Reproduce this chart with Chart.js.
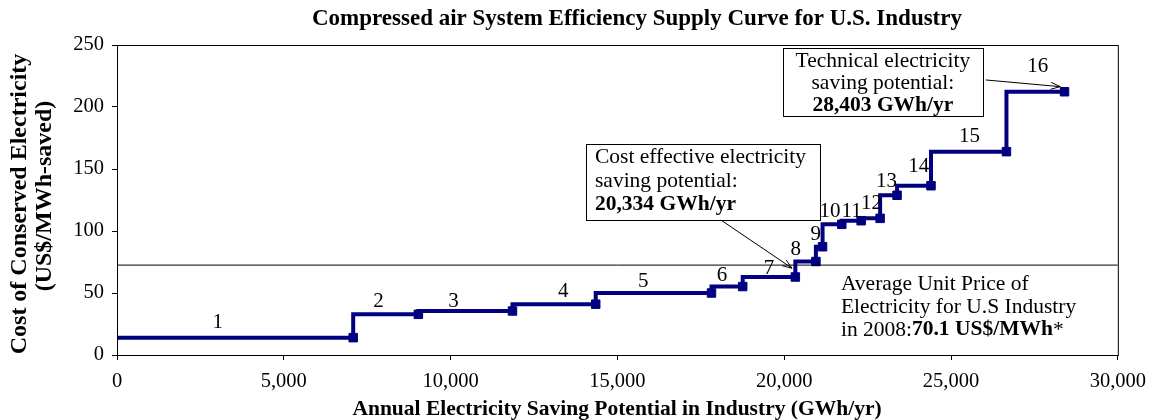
<!DOCTYPE html>
<html>
<head>
<meta charset="utf-8">
<script src="https://cdn.jsdelivr.net/npm/chart.js@4"></script>
<style>
  html, body { margin: 0; background: #fff; }
  #wrap { width: 1155px; height: 420px; }
</style>
</head>
<body>
<div id="wrap"><canvas id="supplyChart"></canvas></div>
<script>
// cumulative saving at the end of each measure (GWh/yr) and its cost (US$/MWh-saved)
const cumulativeSavings = [7080, 9034, 11855, 14350, 17820, 18756, 20334, 20950, 21150, 21726, 22306, 22875, 23383, 24400, 26662, 28403];
const conservedCost = [14, 32.8, 35.5, 41, 50, 55.2, 62.9, 75.4, 87.3, 105.4, 108.3, 110.2, 128.8, 136.5, 164, 212.3];
const measureNames = ['1', '2', '3', '4', '5', '6', '7', '8', '9', '10', '11', '12', '13', '14', '15', '16'];
const averagePrice = 72.5; // level where the price line sits in the picture
const xTicks = [0, 5000, 10000, 15000, 20000, 25000, 30000];
const yTicks = [0, 50, 100, 150, 200, 250];

// where the measure numbers are written (data units)
const labelX = [3023, 7842, 10087, 13379, 15773, 18138, 19545, 20344, 20943, 21371, 22020, 22619, 23068, 24035, 25552, 27597];
const labelY = [26.6, 43, 43.5, 51.6, 59, 64.5, 69.4, 84.7, 96.8, 115.6, 116, 121.8, 139.8, 151.9, 176, 232.5];

const serif = '"Liberation Serif", "Times New Roman", serif';
const navy = '#000080';
const noteFont = '21.5px ' + serif;
const noteBold = 'bold 21.5px ' + serif;

// step outline: flat at each measure's cost, then up to the next one
const stepPoints = [{ x: xTicks[0], y: conservedCost[0] }];
cumulativeSavings.forEach((s, i) => {
    stepPoints.push({ x: s, y: conservedCost[i] });
    if (i + 1 < conservedCost.length) stepPoints.push({ x: s, y: conservedCost[i + 1] });
});
const endPoints = cumulativeSavings.map((s, i) => ({ x: s, y: conservedCost[i] }));

function arrow(ctx, x1, y1, x2, y2) {
    const ang = Math.atan2(y2 - y1, x2 - x1);
    ctx.beginPath();
    ctx.moveTo(x1, y1);
    ctx.lineTo(x2, y2);
    ctx.stroke();
    ctx.beginPath();
    ctx.moveTo(x2, y2);
    ctx.lineTo(x2 - 10 * Math.cos(ang - 0.35), y2 - 10 * Math.sin(ang - 0.35));
    ctx.moveTo(x2, y2);
    ctx.lineTo(x2 - 10 * Math.cos(ang + 0.35), y2 - 10 * Math.sin(ang + 0.35));
    ctx.stroke();
}

const notes = {
    id: 'notes',
    afterDatasetsDraw(chart) {
        const { ctx, chartArea: a, scales: { x, y } } = chart;
        ctx.save();

        // frame
        ctx.strokeStyle = '#000';
        ctx.lineWidth = 1;
        ctx.strokeRect(a.left + 0.5, a.top + 0.5, a.right - a.left, a.bottom - a.top);

        // title
        ctx.fillStyle = '#000';
        ctx.textAlign = 'center';
        ctx.textBaseline = 'middle';
        ctx.font = 'bold 23px ' + serif;
        ctx.fillText('Compressed air System Efficiency Supply Curve for U.S. Industry', 637, 19);

        // axis titles
        ctx.font = 'bold 21.5px ' + serif;
        ctx.fillText('Annual Electricity Saving Potential in Industry (GWh/yr)', 617, 409);
        ctx.save();
        ctx.translate(20, 204);
        ctx.rotate(-Math.PI / 2);
        ctx.font = 'bold 24px ' + serif;
        ctx.fillText('Cost of Conserved Electricity', 0, 0);
        ctx.fillText('(US$/MWh-saved)', 8, 25);
        ctx.restore();

        // measure numbers
        ctx.font = '21px ' + serif;
        measureNames.forEach((n, i) => {
            ctx.fillText(n, x.getPixelForValue(labelX[i]), y.getPixelForValue(labelY[i]));
        });

        // cost-effective box
        ctx.lineWidth = 1;
        const b1 = { l: x.getPixelForValue(14058), r: x.getPixelForValue(21062), t: y.getPixelForValue(170.2), b: y.getPixelForValue(108.9) };
        ctx.fillStyle = '#fff';
        ctx.fillRect(b1.l, b1.t, b1.r - b1.l, b1.b - b1.t);
        ctx.strokeRect(Math.round(b1.l) + 0.5, Math.round(b1.t) + 0.5, Math.round(b1.r - b1.l), Math.round(b1.b - b1.t));
        ctx.fillStyle = '#000';
        ctx.textAlign = 'left';
        ctx.font = noteFont;
        ctx.fillText('Cost effective electricity', b1.l + 9, b1.t + 13);
        ctx.fillText('saving potential:', b1.l + 9, b1.t + 37);
        ctx.font = noteBold;
        ctx.fillText('20,334 GWh/yr', b1.l + 9, b1.t + 61);
        arrow(ctx, x.getPixelForValue(18100), b1.b, x.getPixelForValue(20234), y.getPixelForValue(70));

        // technical potential box
        const b2 = { l: x.getPixelForValue(19964), r: x.getPixelForValue(25950), t: y.getPixelForValue(247.3), b: y.getPixelForValue(192.2) };
        ctx.fillStyle = '#fff';
        ctx.fillRect(b2.l, b2.t, b2.r - b2.l, b2.b - b2.t);
        ctx.strokeRect(Math.round(b2.l) + 0.5, Math.round(b2.t) + 0.5, Math.round(b2.r - b2.l), Math.round(b2.b - b2.t));
        ctx.fillStyle = '#000';
        ctx.textAlign = 'center';
        const cx = (b2.l + b2.r) / 2;
        ctx.font = noteFont;
        ctx.fillText('Technical electricity', cx, b2.t + 13);
        ctx.fillText('saving potential:', cx, b2.t + 35);
        ctx.font = noteBold;
        ctx.fillText('28,403 GWh/yr', cx, b2.t + 57);
        arrow(ctx, b2.r + 3, y.getPixelForValue(221.8), x.getPixelForValue(28276), y.getPixelForValue(216.4));

        // average price note
        ctx.textAlign = 'left';
        const tx = x.getPixelForValue(21700);
        ctx.font = noteFont;
        ctx.fillText('Average Unit Price of', tx, y.getPixelForValue(57.3));
        ctx.fillText('Electricity for U.S Industry', tx, y.getPixelForValue(38.7));
        const ly = y.getPixelForValue(20.2);
        ctx.fillText('in 2008:', tx, ly);
        let w = ctx.measureText('in 2008:').width;
        ctx.font = noteBold;
        ctx.fillText('70.1 US$/MWh', tx + w, ly);
        w += ctx.measureText('70.1 US$/MWh').width;
        ctx.font = noteFont;
        ctx.fillText('*', tx + w, ly);

        ctx.restore();
    }
};

new Chart(document.getElementById('supplyChart'), {
    type: 'scatter',
    data: {
        datasets: [{
            data: [{ x: xTicks[0], y: averagePrice }, { x: xTicks[xTicks.length - 1], y: averagePrice }],
            showLine: true,
            borderColor: '#000',
            borderWidth: 1,
            pointRadius: 0
        }, {
            data: stepPoints,
            showLine: true,
            borderColor: navy,
            borderWidth: 4,
            pointRadius: 0,
            borderJoinStyle: 'miter'
        }, {
            data: endPoints,
            pointStyle: 'rect',
            pointRadius: 6,
            backgroundColor: navy,
            borderColor: navy,
            borderWidth: 1
        }]
    },
    options: {
        responsive: true,
        maintainAspectRatio: false,
        animation: false,
        layout: { padding: { top: 45, right: 35, left: 0, bottom: 0 } },
        plugins: { legend: { display: false }, tooltip: { enabled: false } },
        scales: {
            x: {
                type: 'linear',
                min: xTicks[0],
                max: xTicks[xTicks.length - 1],
                afterBuildTicks: s => { s.ticks = xTicks.map(v => ({ value: v })); },
                afterFit: s => { s.height = 65; },
                grid: { drawOnChartArea: false, color: '#000', tickLength: 5 },
                border: { color: '#000' },
                ticks: {
                    color: '#000',
                    font: { family: serif, size: 20.5 },
                    padding: 9,
                    maxRotation: 0,
                    callback: v => v.toLocaleString('en-US')
                }
            },
            y: {
                min: yTicks[0],
                max: yTicks[yTicks.length - 1],
                afterBuildTicks: s => { s.ticks = yTicks.map(v => ({ value: v })); },
                afterFit: s => { s.width = 117; },
                grid: { drawOnChartArea: false, color: '#000', tickLength: 5 },
                border: { color: '#000' },
                ticks: {
                    color: '#000',
                    font: { family: serif, size: 20.5 },
                    padding: 8
                }
            }
        }
    },
    plugins: [notes]
});
</script>
</body>
</html>
